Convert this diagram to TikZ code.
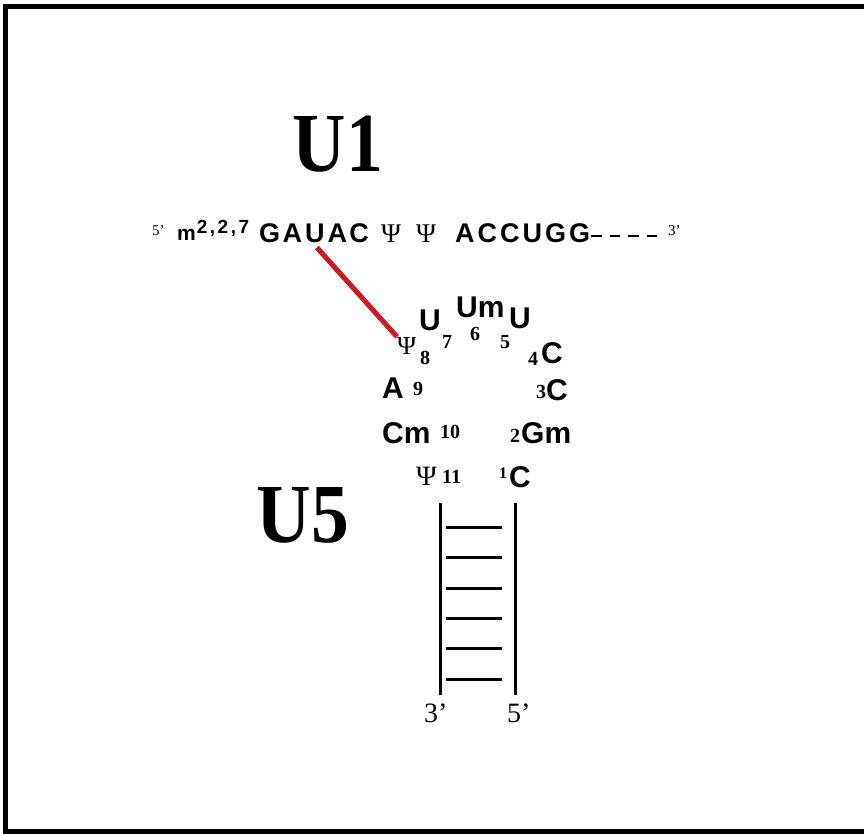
\documentclass[tikz,border=0pt]{standalone}
\usepackage{fontspec}
\setmainfont{Liberation Serif}
\setsansfont{Liberation Sans}
\usetikzlibrary{positioning}

\begin{document}
\begin{tikzpicture}[x=1pt,y=-1pt,
  nt/.style={inner sep=0pt,anchor=base west,font=\sffamily\bfseries\fontsize{30}{30}\selectfont},
  sq/.style={inner sep=0pt,anchor=base west,font=\sffamily\bfseries\fontsize{27}{27}\selectfont},
  num/.style={inner sep=0pt,anchor=base west,font=\bfseries\fontsize{20}{20}\selectfont},
  psi/.style={inner sep=0pt,anchor=base west,font=\fontsize{26}{26}\selectfont},
  prime/.style={inner sep=0pt,anchor=base west,font=\fontsize{15}{15}\selectfont},
  big/.style={inner sep=0pt,anchor=base,font=\bfseries\fontsize{84}{84}\selectfont},
  strand/.style={line width=3pt},
  seqdash/.style={line width=2.5pt,dash pattern=on 10.5pt off 8pt},
  frame/.style={line width=5pt}]
\useasboundingbox (0,0) rectangle (864,834);
\draw[frame] (864,7) -- (5.5,7) -- (5.5,831) -- (864,831);

\node[big] (u1) at (338,172) {\scalebox{0.88}[1]{U1}};
\node[big] (u5) at (303,542) {\scalebox{0.9}[1]{U5}};

% U1 5' end
\node[prime] (fivep) at (152,236) {5’};
\node[inner sep=0pt,anchor=base west,font=\sffamily\bfseries\fontsize{21}{21}\selectfont] (cap) at (177,241)
  {m\kern1pt\raisebox{7pt}{\fontsize{19}{19}\selectfont 2\kern2.5pt,\kern2.5pt2\kern2.5pt,\kern2.5pt7}};
\node[sq] (ga) at (259,243) {G\kern2.5pt A\kern2.5pt};
\node[sq,right=0pt of ga.base east,anchor=base west] (u) {U};
\node[sq,right=2.5pt of u.base east,anchor=base west] (ac) {A\kern2.5pt C};
\node[psi,font=\fontsize{27}{27}\selectfont] (pp) at (381,243) {Ψ\kern15pt Ψ};
\node[sq] (accugg) at (455,243) {A\kern3pt C\kern3pt C\kern3pt U\kern3pt G\kern3pt G};
\coordinate (dashend) at (658,236);
\node[prime] (threep) at (668,236) {3’};
\draw[seqdash] ([xshift=1pt]accugg.east |- dashend) -- (dashend);

% U5 loop
\node[psi] (psi8) at (397,354) {Ψ};
\node[num] (n8) at (420,364) {8};
\node[nt] (u7) at (419,330) {U};
\node[num] (n7) at (442,348) {7};
\node[nt] (um6) at (456,317) {Um};
\node[num] (n6) at (470,340) {6};
\node[nt] (u5b) at (509,328) {U};
\node[num] (n5) at (500,348) {5};
\node[num] (n4) at (528,365) {4};
\node[nt] (c4) at (541,363) {C};
\node[nt] (a9) at (382,398) {A};
\node[num] (n9) at (413,395) {9};
\node[num] (n3) at (536,398) {3};
\node[nt] (c3) at (546,400) {C};
\node[nt] (cm10) at (382,443) {Cm};
\node[num] (n10) at (440,438) {10};
\node[num] (n2) at (510,442) {2};
\node[nt] (gm2) at (521,443) {Gm};
\node[psi,font=\fontsize{28}{28}\selectfont] (psi11) at (416,485) {Ψ};
\node[num] (n11) at (442,483) {11};
\node[num,font=\bfseries\fontsize{16}{16}\selectfont] (n1) at (499,478) {1};
\node[nt] (c1) at (509,487) {C};

\draw[line width=5pt,color={rgb,255:red,205;green,25;blue,35}] ([xshift=2pt,yshift=-4pt]u.south) -- (psi8.north west);

% stem
\node[prime,font=\fontsize{28}{28}\selectfont] (s3) at (424,722) {3'};
\node[prime,font=\fontsize{28}{28}\selectfont] (s5) at (507,722) {5'};
\coordinate (lt) at (440,503);
\coordinate (rt) at (515,503);
\draw[strand] (lt) -- (lt |- 0,695);
\draw[strand] (rt) -- (rt |- 0,695);
\foreach \y in {527,557.5,588,618,648.5,679}
  \draw[strand] (446,\y) -- (502,\y);
\end{tikzpicture}
\end{document}
